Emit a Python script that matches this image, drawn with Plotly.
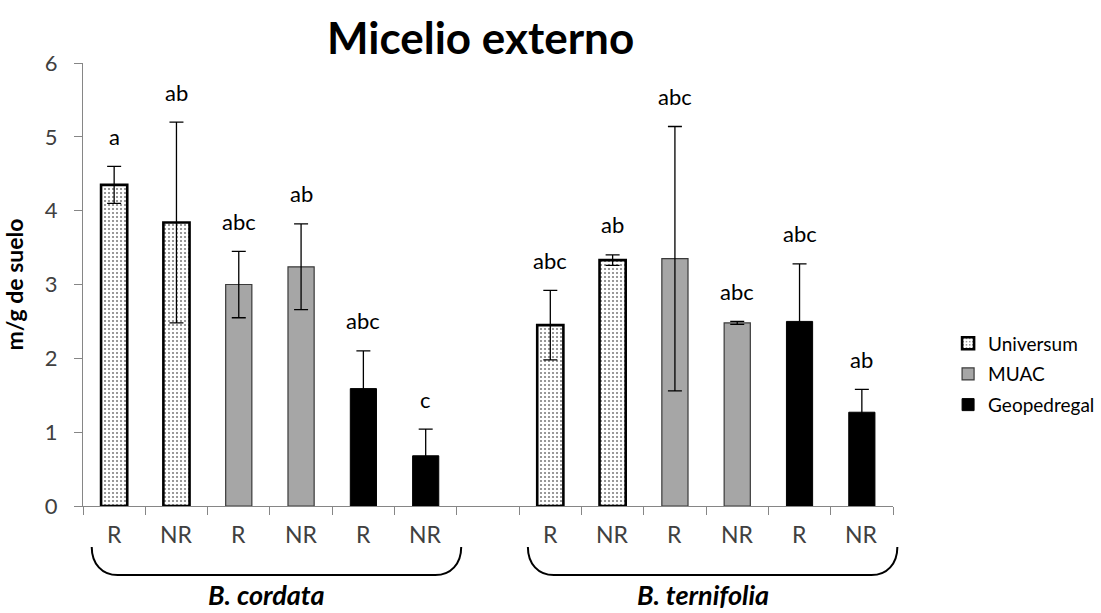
import plotly.graph_objects as go

# ---------------- data ----------------
species = ["B. cordata", "B. ternifolia"]
treatments = ["R", "NR", "R", "NR", "R", "NR"]
sites = ["Universum", "MUAC", "Geopedregal"]

cordata_mean = [4.35, 3.84, 3.00, 3.24, 1.59, 0.68]
cordata_err = [0.25, 1.36, 0.45, 0.58, 0.51, 0.36]
cordata_letters = ["a", "ab", "abc", "ab", "abc", "c"]

ternifolia_mean = [2.45, 3.33, 3.35, 2.48, 2.50, 1.27]
ternifolia_err = [0.47, 0.07, 1.79, 0.02, 0.78, 0.31]
ternifolia_letters = ["abc", "ab", "abc", "abc", "abc", "ab"]

y_ticks = [0, 1, 2, 3, 4, 5, 6]

# ---------------- layout helpers ----------------
means = [cordata_mean, ternifolia_mean]
errs = [cordata_err, ternifolia_err]
letters = [cordata_letters, ternifolia_letters]
n_slots = 2 * len(treatments) + 1          # one empty slot between groups
def slot(g, i):
    return g * (len(treatments) + 1) + i

FONT = "Lato"
TXT = "#404040"
AX = "#868686"

styles = {
    "Universum": dict(color="white", line=dict(color="black", width=2.6),
                      pattern=dict(shape=".", fgcolor="black", bgcolor="white",
                                   size=4, solidity=0.22)),
    "MUAC": dict(color="#a6a6a6", line=dict(color="#3a3a3a", width=1.2)),
    "Geopedregal": dict(color="black", line=dict(color="black", width=1)),
}

fig = go.Figure()
for s_idx, site in enumerate(sites):
    xs, ys, es = [], [], []
    for g in range(2):
        for i in range(len(treatments)):
            if i // 2 == s_idx:
                xs.append(slot(g, i))
                ys.append(means[g][i])
                es.append(errs[g][i])
    fig.add_trace(go.Bar(
        x=xs, y=ys, name=site, width=0.42, marker=styles[site],
        legendgroup=site,
        error_y=dict(type="data", array=es, visible=True, color="black",
                     thickness=1.3, width=7),
    ))

annotations = []
for g in range(2):
    for i, t in enumerate(treatments):
        x = slot(g, i)
        annotations.append(dict(x=x, y=means[g][i] + errs[g][i], xref="x", yref="y",
                                text=letters[g][i], showarrow=False, yanchor="middle",
                                yshift=30, font=dict(family=FONT, size=22, color="black")))
        annotations.append(dict(x=x, y=-0.063, xref="x", yref="paper", text=t,
                                showarrow=False, yanchor="middle",
                                font=dict(family=FONT, size=23, color=TXT)))
    center = (slot(g, 0) + slot(g, len(treatments) - 1)) / 2
    annotations.append(dict(x=center - 0.05, y=-0.2415, xref="x", yref="paper",
                            text="<b><i>%s</i></b>" % species[g], showarrow=False,
                            yanchor="bottom", font=dict(family=FONT, size=27, color="black")))

annotations.append(dict(x=0.491, y=1.058, xref="paper", yref="paper",
                        text="<b>Micelio externo</b>", showarrow=False, yanchor="middle",
                        font=dict(family=FONT, size=44, color="black")))

# curly brackets under each group
shapes = []
def px(s):
    return (s + 0.5) / n_slots
for g in range(2):
    x0 = px(slot(g, 0) - 0.36)
    x1 = px(slot(g, len(treatments) - 1) + 0.57)
    yt, yb = -0.0925, -0.156
    r = 0.032
    h = yt - yb
    path = (f"M {x0},{yt} C {x0},{yt - 0.6*h} {x0 + 0.4*r},{yb} {x0 + r},{yb} "
            f"L {x1 - r},{yb} C {x1 - 0.4*r},{yb} {x1},{yt - 0.6*h} {x1},{yt}")
    shapes.append(dict(type="path", path=path, xref="paper", yref="paper",
                       line=dict(color="black", width=2)))

fig.update_layout(
    width=1101, height=613,
    margin=dict(l=83, r=208, t=63, b=107, autoexpand=False),
    plot_bgcolor="white", paper_bgcolor="white",
    barmode="overlay",
    showlegend=True,
    legend=dict(x=1.068, y=0.41, xanchor="left", yanchor="top",
                font=dict(family=FONT, size=19, color="black"),
                tracegroupgap=3, bgcolor="rgba(0,0,0,0)"),
    xaxis=dict(range=[-0.5, n_slots - 0.5],
               tickvals=[k - 0.5 for k in range(n_slots + 1)],
               showticklabels=False, ticks="outside", ticklen=8, tickcolor=AX,
               showline=True, linecolor=AX, linewidth=1, showgrid=False, zeroline=False),
    yaxis=dict(range=[0, 6], tickvals=y_ticks, ticks="outside", ticklen=8, tickcolor=AX,
               showline=True, linecolor=AX, linewidth=1, showgrid=False, zeroline=False,
               tickfont=dict(family=FONT, size=22, color=TXT), ticklabelstandoff=12,
               title=dict(text="<b>m/g de suelo</b>", standoff=14,
                          font=dict(family=FONT, size=23, color="black"))),
    annotations=annotations,
    shapes=shapes,
)

fig.write_html("out.html")
